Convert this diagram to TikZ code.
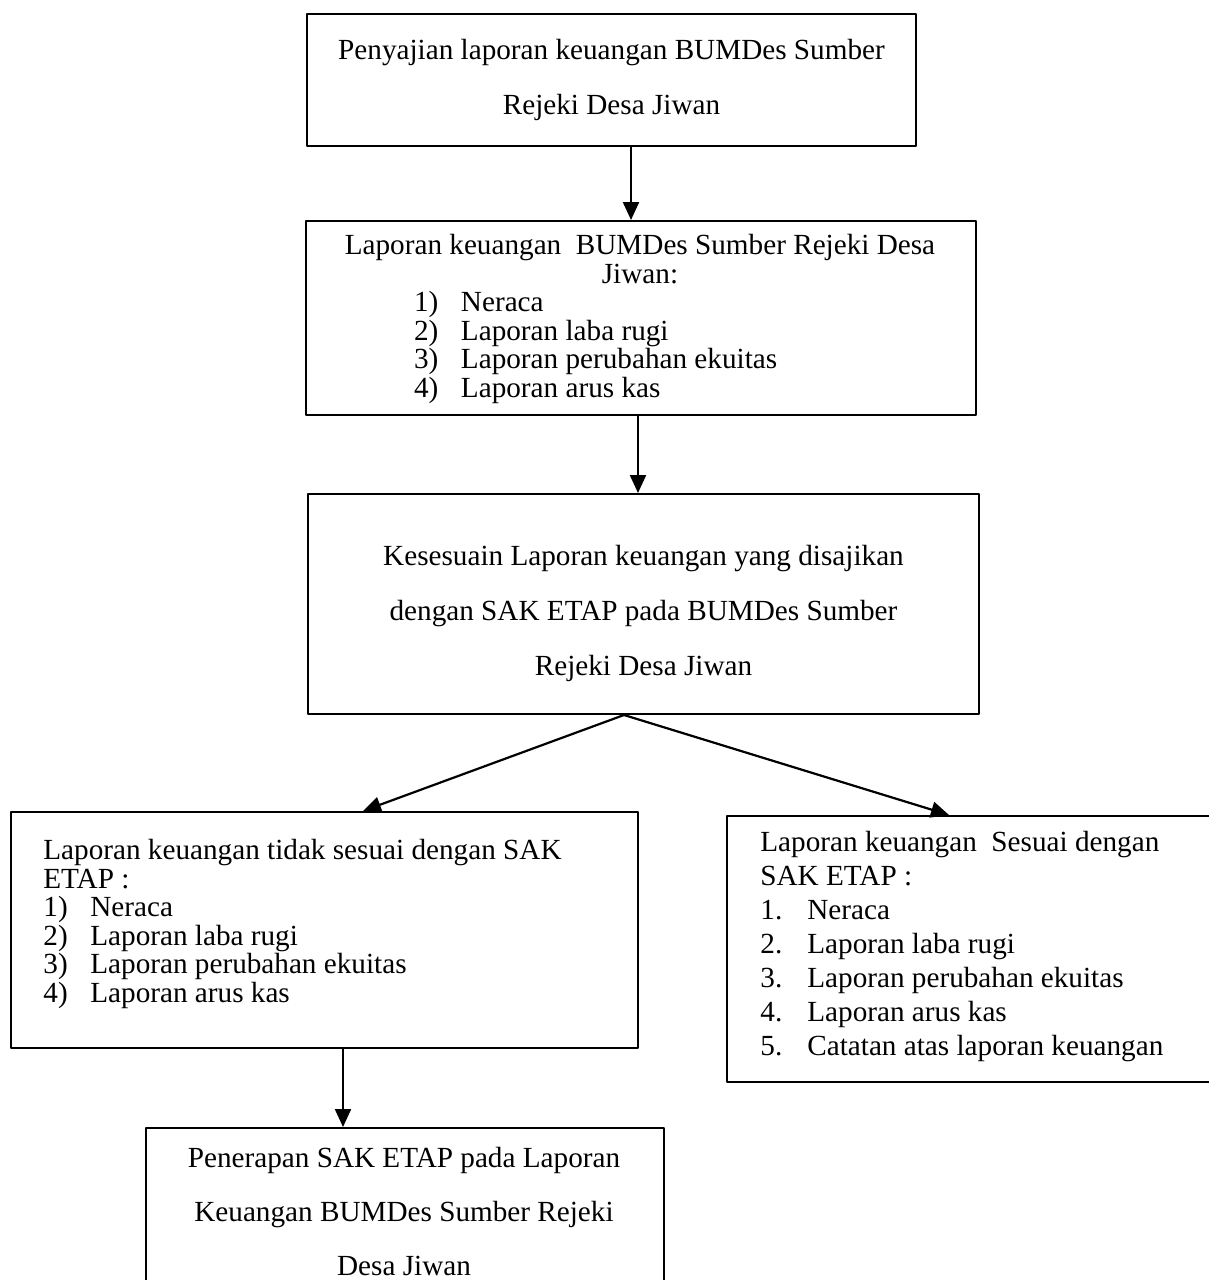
\documentclass[tikz,border=0pt]{standalone}
\usepackage{fontspec}
\setmainfont{Liberation Serif}
\usetikzlibrary{arrows.meta,positioning}

\newcommand{\numitem}[2]{\makebox[23.5pt][l]{#1}#2}

\begin{document}
\begin{tikzpicture}[x=0.5pt,y=-0.5pt,line join=round,
    box/.style={draw,line width=1pt,rectangle,inner sep=0pt,anchor=north west},
    txt/.style={inner sep=0pt,font=\fontsize{14.6}{#1}\selectfont},
    flow/.style={line width=1.1pt,-{Triangle[length=9pt,width=8pt]}}]
  \useasboundingbox (0,0) rectangle (1209,1280);
  \clip (0,0) rectangle (1209,1280);

  % boxes
  \node[box,minimum width=304.5pt,minimum height=66pt] (penyajian) at (306,13) {};
  \node[box,minimum width=335pt,minimum height=97pt] (laporan) at (305,220) {};
  \node[box,minimum width=335.5pt,minimum height=110pt] (kesesuaian) at (307,493) {};
  \node[box,minimum width=313.5pt,minimum height=118pt] (tidaksesuai) at (10,811) {};
  \node[box,minimum width=244.5pt,minimum height=133pt] (sesuai) at (726,815) {};
  \node[box,minimum width=259pt,minimum height=90pt] (penerapan) at (145,1127) {};

  % texts
  \node[txt=27.25,align=flush center] (penyajian-txt) at (penyajian.center)
    {Penyajian laporan keuangan BUMDes Sumber\\Rejeki Desa Jiwan};
  \node[txt=14.25,text width=320pt,align=flush center] (laporan-txt) at (640,319)
    {Laporan keuangan\ \ BUMDes Sumber Rejeki Desa\\
     Jiwan:\\
     \makebox[\linewidth][l]{\hspace{47pt}\numitem{1)}{Neraca}}\\
     \makebox[\linewidth][l]{\hspace{47pt}\numitem{2)}{Laporan laba rugi}}\\
     \makebox[\linewidth][l]{\hspace{47pt}\numitem{3)}{Laporan perubahan ekuitas}}\\
     \makebox[\linewidth][l]{\hspace{47pt}\numitem{4)}{Laporan arus kas}}};
  \node[txt=27.5,align=flush center] (kesesuaian-txt) at ([yshift=-4.5pt]kesesuaian.center)
    {Kesesuain Laporan keuangan yang disajikan\\dengan SAK ETAP pada BUMDes Sumber\\Rejeki Desa Jiwan};
  \node[txt=14.25,align=left,anchor=west] (tidaksesuai-txt) at (43,924)
    {Laporan keuangan tidak sesuai dengan SAK\\
     ETAP :\\
     \numitem{1)}{Neraca}\\
     \numitem{2)}{Laporan laba rugi}\\
     \numitem{3)}{Laporan perubahan ekuitas}\\
     \numitem{4)}{Laporan arus kas}};
  \node[txt=17,align=left,anchor=west] (sesuai-txt) at (760,946.5)
    {Laporan keuangan\ \ Sesuai dengan\\
     SAK ETAP :\\
     \numitem{1.}{Neraca}\\
     \numitem{2.}{Laporan laba rugi}\\
     \numitem{3.}{Laporan perubahan ekuitas}\\
     \numitem{4.}{Laporan arus kas}\\
     \numitem{5.}{Catatan atas laporan keuangan}};
  \node[txt=27,align=flush center] (penerapan-txt) at (404,1211)
    {Penerapan SAK ETAP pada Laporan\\Keuangan BUMDes Sumber Rejeki\\Desa Jiwan};

  % arrows
  \draw[flow] ([xshift=9.75pt]penyajian.south) coordinate (a1) -- (a1 |- laporan.north);
  \draw[flow] ([xshift=-1.5pt]laporan.south) coordinate (a2) -- (a2 |- kesesuaian.north);
  \draw[flow] ([xshift=-9.75pt]kesesuaian.south) -- ([xshift=19.25pt]tidaksesuai.north);
  \draw[flow] ([xshift=-9.75pt]kesesuaian.south) -- ([xshift=-11.25pt]sesuai.north);
  \draw[flow] ([xshift=9.25pt]tidaksesuai.south) coordinate (a5) -- (a5 |- penerapan.north);
\end{tikzpicture}
\end{document}
